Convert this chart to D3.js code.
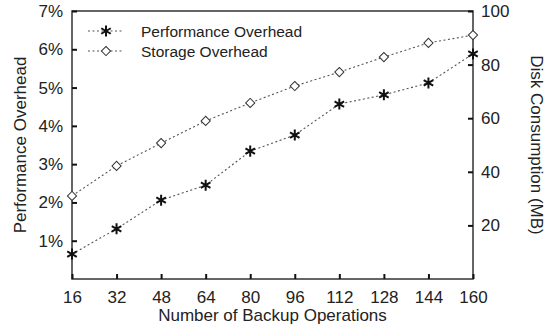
<!DOCTYPE html>
<meta charset="utf-8">
<head>
  <title>Backup Overhead</title>
  <script src="https://cdn.jsdelivr.net/npm/d3@7"></script>
  <style>
    body { margin: 0; background: #fff; }
    text { font-family: "Liberation Sans", Arial, sans-serif; fill: #222; }
  </style>
</head>
<body>
<svg width="548" height="328"></svg>
<script>

  var ops = [16, 32, 48, 64, 80, 96, 112, 128, 144, 160];   // backup operations
  var perf = [0.65, 1.31, 2.06, 2.45, 3.34, 3.76, 4.57, 4.81, 5.12, 5.88]; // %
  var disk = [31.0, 42.2, 50.7, 59.0, 65.7, 72.0, 77.2, 82.8, 88.1, 91.0]; // MB
  var leftTicks = [1, 2, 3, 4, 5, 6, 7];
  var rightTicks = [20, 40, 60, 80, 100];

  var L = 72, R = 473, T = 11, B = 279;
  var svg = d3.select("svg");

  var x = d3.scaleLinear().domain([16, 160]).range([L, R]);
  var yl = d3.scaleLinear().domain([0, 7]).range([B, T]);
  var yr = d3.scaleLinear().domain([0, 100]).range([B, T]);

  // frame
  svg.append("rect")
    .attr("x", L).attr("y", T)
    .attr("width", R - L).attr("height", B - T)
    .attr("fill", "none").attr("stroke", "#333").attr("stroke-width", 1.5);

  // axes
  var xAxis = svg.append("g").attr("transform", "translate(0," + B + ")")
    .call(d3.axisBottom(x).tickValues(ops).tickSize(-5).tickPadding(12));
  var lAxis = svg.append("g").attr("transform", "translate(" + L + ",0)")
    .call(d3.axisLeft(yl).tickValues(leftTicks).tickSize(-5).tickPadding(9)
      .tickFormat(function(d) { return d + "%"; }));
  var rAxis = svg.append("g").attr("transform", "translate(" + R + ",0)")
    .call(d3.axisRight(yr).tickValues(rightTicks).tickSize(-5).tickPadding(8));

  [xAxis, lAxis, rAxis].forEach(function(g) {
    g.select(".domain").remove();
    g.selectAll(".tick line").attr("stroke", "#111").attr("stroke-width", 2);
    g.selectAll(".tick text").attr("font-size", 17)
      .attr("font-family", "Liberation Sans, Arial, sans-serif").attr("fill", "#222");
  });

  // axis titles
  svg.append("text")
    .attr("x", (L + R) / 2).attr("y", 321)
    .attr("text-anchor", "middle").attr("font-size", 17)
    .text("Number of Backup Operations");
  svg.append("text")
    .attr("transform", "translate(26," + (T + B) / 2 + ") rotate(-90)")
    .attr("text-anchor", "middle").attr("font-size", 17)
    .text("Performance Overhead");
  svg.append("text")
    .attr("transform", "translate(531," + (T + B) / 2 + ") rotate(90)")
    .attr("text-anchor", "middle").attr("font-size", 17)
    .text("Disk Consumption (MB)");

  var star = d3.symbol().type(d3.symbolAsterisk).size(85);
  var diamond = d3.symbol().type(d3.symbolSquare).size(42);

  function series(vals, ys, sym, isStar) {
    var line = d3.line()
      .x(function(d, i) { return x(ops[i]); })
      .y(function(d) { return ys(d); });
    svg.append("path")
      .datum(vals)
      .attr("d", line)
      .attr("fill", "none")
      .attr("stroke", "#555")
      .attr("stroke-width", 1.1)
      .attr("stroke-dasharray", "2,2.5");
    svg.selectAll(null)
      .data(vals)
      .enter()
      .append("path")
      .attr("d", sym)
      .attr("transform", function(d, i) {
        return "translate(" + x(ops[i]) + "," + ys(d) + ")" + (isStar ? "" : " rotate(45)");
      })
      .attr("fill", isStar ? "none" : "#fff")
      .attr("stroke", isStar ? "#111" : "#333")
      .attr("stroke-width", isStar ? 2 : 1);
  }

  series(perf, yl, star, true);
  series(disk, yr, diamond, false);

  // legend
  var legend = [
    { name: "Performance Overhead", sym: star, isStar: true, y: 31 },
    { name: "Storage Overhead", sym: diamond, isStar: false, y: 51 }
  ];
  legend.forEach(function(d) {
    svg.append("line")
      .attr("x1", 88).attr("x2", 124).attr("y1", d.y).attr("y2", d.y)
      .attr("stroke", "#555").attr("stroke-width", 1.1).attr("stroke-dasharray", "2,2.5");
    svg.append("path")
      .attr("d", d.sym)
      .attr("transform", "translate(106," + d.y + ")" + (d.isStar ? "" : " rotate(45)"))
      .attr("fill", d.isStar ? "none" : "#fff")
      .attr("stroke", d.isStar ? "#111" : "#333")
      .attr("stroke-width", d.isStar ? 2 : 1);
    svg.append("text")
      .attr("x", 141).attr("y", d.y + 5.5)
      .attr("font-size", 15.5)
      .text(d.name);
  });

</script>
</body>
</html>
